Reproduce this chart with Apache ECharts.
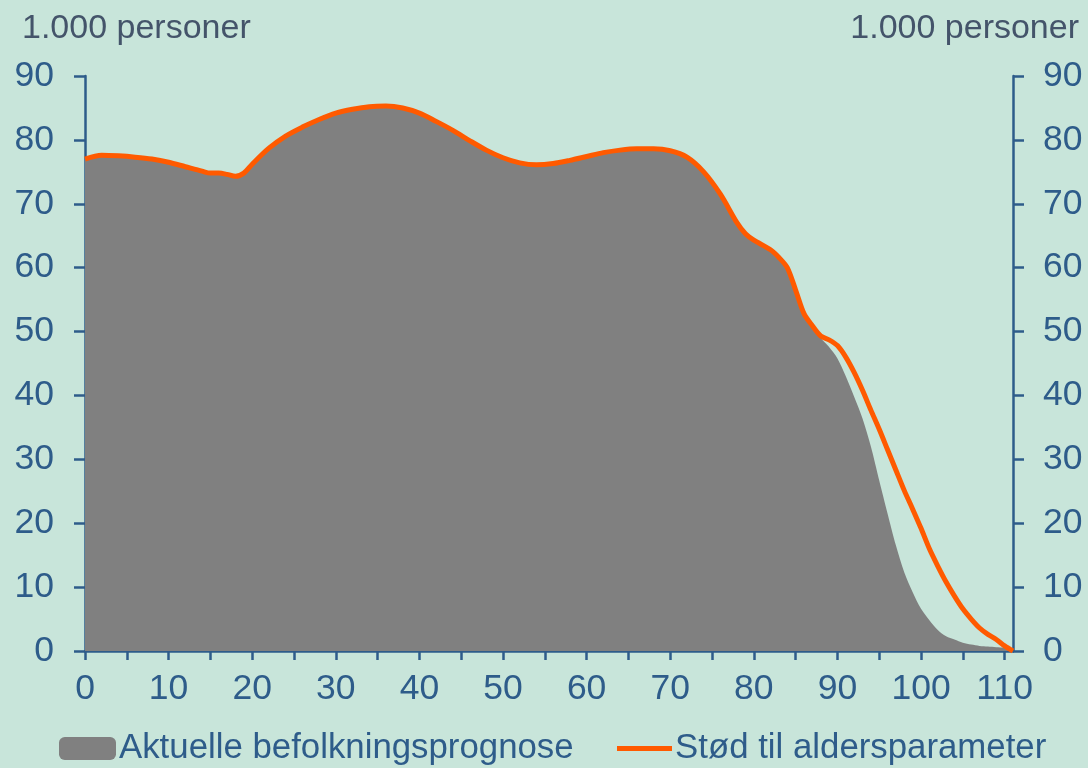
<!DOCTYPE html>
<html>
<head>
<meta charset="utf-8">
<script src="https://cdn.jsdelivr.net/npm/echarts@6/dist/echarts.min.js"></script>
<style>
  html, body { margin: 0; padding: 0; background: #c8e5da; }
  #chart { width: 1088px; height: 768px; }
</style>
</head>
<body>
<div id="chart"></div>
<script>
// alder (år)
var ages = [0, 2, 4, 6, 8, 10, 12, 14, 15, 16, 17, 18, 19, 20, 22, 24, 26, 28, 30, 32, 34, 36, 38, 40,
  42, 44, 46, 48, 50, 52, 54, 56, 58, 60, 62, 64, 66, 68, 70, 72, 74, 76, 78, 79, 80, 82, 83, 84,
  85, 86, 87, 88, 89, 90, 91, 92, 93, 94, 95, 96, 97, 98, 99, 100, 101, 102, 103, 104, 105, 106,
  107, 108, 109, 110, 111]
// Aktuelle befolkningsprognose (1.000 personer)
var prognose = [77.0, 77.6, 77.5, 77.3, 77.0, 76.5, 75.8, 75.1, 74.8, 74.8, 74.6, 74.3, 74.8, 76.2,
  78.7, 80.6, 82.0, 83.2, 84.2, 84.8, 85.2, 85.3, 85.0, 84.2, 82.9, 81.5, 79.9, 78.4, 77.2, 76.4,
  76.1, 76.3, 76.8, 77.4, 78.0, 78.4, 78.6, 78.6, 78.3, 77.3, 75.0, 71.5, 67.0, 65.3, 64.3, 62.8,
  61.6, 60.0, 56.5, 52.8, 50.9, 49.0, 47.6, 45.8, 43.0, 39.8, 36.4, 32.0, 26.7, 21.5, 16.5, 12.3,
  9.2, 6.6, 4.8, 3.3, 2.3, 1.8, 1.3, 1.0, 0.8, 0.7, 0.6, 0.5, 0]
// Stød til aldersparameter (1.000 personer)
var stoed = [77.0, 77.6, 77.5, 77.3, 77.0, 76.5, 75.8, 75.1, 74.8, 74.8, 74.6, 74.3, 74.8, 76.2,
  78.7, 80.6, 82.0, 83.2, 84.2, 84.8, 85.2, 85.3, 85.0, 84.2, 82.9, 81.5, 79.9, 78.4, 77.2, 76.4,
  76.1, 76.3, 76.8, 77.4, 78.0, 78.4, 78.6, 78.6, 78.3, 77.3, 75.0, 71.5, 67.0, 65.3, 64.3, 62.8,
  61.6, 60.0, 56.5, 52.8, 50.9, 49.3, 48.7, 47.8, 46.0, 43.6, 40.8, 37.7, 34.7, 31.5, 28.3, 25.1,
  22.2, 19.2, 16.0, 13.3, 10.8, 8.6, 6.6, 5.0, 3.6, 2.6, 1.8, 0.8, 0]
var seriesNames = ['Aktuelle befolkningsprognose', 'Stød til aldersparameter']
var unitLabel = '1.000 personer'

var axisBlue = '#2e5c8a'
var font = 'Liberation Sans, Arial, sans-serif'

function pairs (xs, ys) {
  return xs.map(function (x, i) { return [x, ys[i]] })
}

var chart = echarts.init(document.getElementById('chart'), null, { renderer: 'canvas' })

// fælles y-akse opsætning
function yAxis (pos) {
  return {
    type: 'value',
    position: pos,
    min: 0,
    max: 90,
    interval: 10,
    axisLine: { show: true, lineStyle: { color: axisBlue, width: 2.5 } },
    axisTick: { show: true, inside: false, length: 11, lineStyle: { color: axisBlue, width: 2.5 } },
    axisLabel: { color: axisBlue, fontSize: 35.5, fontFamily: font, margin: pos === 'left' ? 31 : 30 },
    splitLine: { show: false }
  }
}

chart.setOption({
  backgroundColor: '#c8e5da',
  animation: false,
  title: [
    {
      text: unitLabel, left: 22, top: 12, padding: 0,
      textStyle: { color: '#44546a', fontSize: 34, fontWeight: 'normal', fontFamily: font }
    },
    {
      text: unitLabel, right: 9, top: 12, padding: 0,
      textStyle: { color: '#44546a', fontSize: 34, fontWeight: 'normal', fontFamily: font }
    }
  ],
  legend: [
    {
      data: [{ name: seriesNames[0], icon: 'roundRect' }],
      left: 59, top: 731, padding: 0,
      itemWidth: 57, itemHeight: 23, itemGap: 0,
      textStyle: { color: axisBlue, fontSize: 34.8, fontFamily: font, padding: [0, 0, 0, -2] }
    },
    {
      data: [{ name: seriesNames[1], icon: 'rect' }],
      left: 617, top: 731, padding: 0,
      itemWidth: 55, itemHeight: 5, itemGap: 0,
      textStyle: { color: axisBlue, fontSize: 34.8, fontFamily: font, padding: [0, 0, 0, -2] }
    }
  ],
  grid: { left: 85, right: 75, top: 76, bottom: 117, containLabel: false },
  xAxis: {
    type: 'value',
    min: 0,
    max: 111,
    interval: 5,
    axisLine: { show: true, onZero: false, lineStyle: { color: axisBlue, width: 2.5 } },
    axisTick: { show: true, length: 9, lineStyle: { color: axisBlue, width: 2.5 } },
    axisLabel: {
      color: axisBlue, fontSize: 35.5, fontFamily: font, margin: 20,
      showMaxLabel: false,
      formatter: function (v) { return v % 10 === 0 ? String(v) : '' }
    },
    splitLine: { show: false }
  },
  yAxis: [yAxis('left'), yAxis('right')],
  series: [
    {
      name: seriesNames[0],
      type: 'line',
      data: pairs(ages, prognose),
      smooth: 0.3,
      showSymbol: false,
      symbol: 'none',
      itemStyle: { color: '#808080' },
      lineStyle: { width: 0, color: '#808080' },
      areaStyle: { color: '#808080', opacity: 1 },
      z: 1
    },
    {
      name: seriesNames[1],
      type: 'line',
      data: pairs(ages, stoed),
      smooth: 0.3,
      showSymbol: false,
      symbol: 'none',
      itemStyle: { color: '#ff5a00' },
      lineStyle: { width: 5, color: '#ff5a00' },
      z: 3
    }
  ]
})
</script>
</body>
</html>
